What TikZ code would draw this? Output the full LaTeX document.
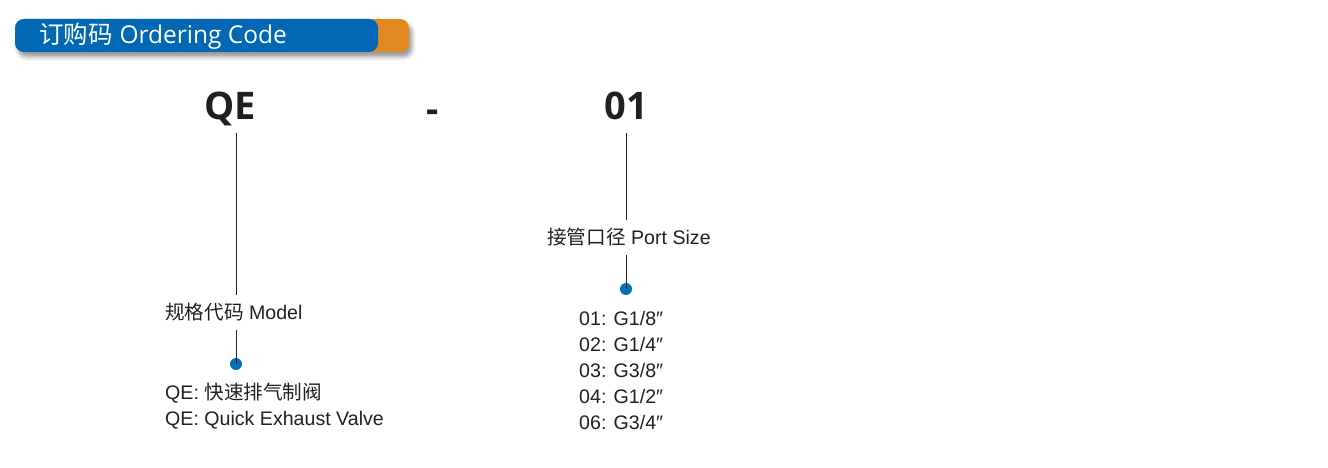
\documentclass[tikz,border=0pt]{standalone}
\usepackage{fontspec}
\setmainfont{Liberation Sans}
\newfontfamily\cjk{Noto Sans CJK SC}
\newfontfamily\hdr{Open Sans}
\usetikzlibrary{shadows.blur}
\definecolor{hblue}{HTML}{0068B4}
\definecolor{horange}{HTML}{E0891E}
\definecolor{ink}{HTML}{231F20}
\definecolor{dotblue}{HTML}{0070BA}
\begin{document}
\begin{tikzpicture}[x=1pt,y=-1pt,
  code/.style={font=\hdr\bfseries\fontsize{38}{40}\selectfont, text=ink, inner sep=0pt, anchor=base},
  lbl/.style={font=\fontsize{19.6}{22}\selectfont, text=ink, inner sep=0pt, anchor=west},
  conn/.style={draw=ink, line width=1pt},
  dot/.style={circle, fill=dotblue, minimum size=12pt, inner sep=0pt}]
\useasboundingbox (0,0) rectangle (1328,468);
% header
\fill[horange, rounded corners=9pt, blur shadow={shadow xshift=3pt, shadow yshift=-5pt, shadow blur radius=4pt, shadow opacity=40}] (15,19) rectangle (409,52);
\fill[hblue, rounded corners=9pt] (15,19) rectangle (378,52);
\node[anchor=west, text=white, inner sep=0pt, font=\fontsize{24.5}{26}\selectfont] (title) at (39,36) {{\cjk 订购码} {\hdr Ordering Code}};
% codes
\node[code] (qe) at (230,120) {QE};
\node[code, yshift=-3pt] (dash) at (433,120) {-};
\node[code] (c01) at (626,120) {01};
% model branch
\coordinate (qtop) at (236,133);
\node[lbl] (model) at (165,312) {{\cjk 规格代码} Model};
\coordinate (qmid) at (236,295);
\coordinate (qlow) at (236,330);
\node[dot] (d1) at (236,364) {};
\draw[conn] (qtop) -- (qmid);
\draw[conn] (qlow) -- (d1.center);
\node[lbl] (m1) at (165,393) {QE: {\cjk 快速排气制阀}};
\node[lbl] (m2) at (165,420) {QE: Quick Exhaust Valve};
% port branch
\coordinate (ptop) at (626,133);
\coordinate (pmid) at (626,220);
\node[lbl, anchor=center] (port) at (629,237) {{\cjk 接管口径} Port Size};
\coordinate (plow) at (626,255);
\node[dot] (d2) at (626,289) {};
\draw[conn] (ptop) -- (pmid);
\draw[conn] (plow) -- (d2.center);
\node[lbl] (p1) at (579,318) {01: G1/8″};
\node[lbl] (p2) at (579,344) {02: G1/4″};
\node[lbl] (p3) at (579,370) {03: G3/8″};
\node[lbl] (p4) at (579,396) {04: G1/2″};
\node[lbl] (p5) at (579,422) {06: G3/4″};
\end{tikzpicture}
\end{document}
